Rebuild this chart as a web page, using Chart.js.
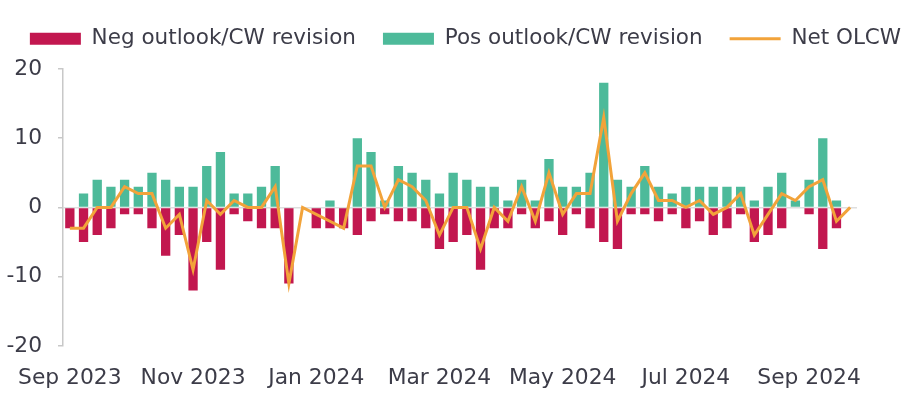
<!DOCTYPE html>
<html>
<head>
<meta charset="utf-8">
<script src="https://cdn.jsdelivr.net/npm/chart.js@4.4.1/dist/chart.umd.min.js"></script>
<style>
  html, body { margin: 0; padding: 0; background: #fff; }
  #wrap { width: 917px; height: 412px; }
</style>
</head>
<body>
<div id="wrap"><canvas id="olcw"></canvas></div>
<script>
// Weekly outlook / CreditWatch revisions, Sep 2023 - Sep 2024

const weeks = [
  '2023-09-01', '2023-09-08', '2023-09-15', '2023-09-22', '2023-09-29',
  '2023-10-06', '2023-10-13', '2023-10-20', '2023-10-27', '2023-11-03',
  '2023-11-10', '2023-11-17', '2023-11-24', '2023-12-01', '2023-12-08',
  '2023-12-15', '2023-12-22', '2023-12-29', '2024-01-05', '2024-01-12',
  '2024-01-19', '2024-01-26', '2024-02-02', '2024-02-09', '2024-02-16',
  '2024-02-23', '2024-03-01', '2024-03-08', '2024-03-15', '2024-03-22',
  '2024-03-29', '2024-04-05', '2024-04-12', '2024-04-19', '2024-04-26',
  '2024-05-03', '2024-05-10', '2024-05-17', '2024-05-24', '2024-05-31',
  '2024-06-07', '2024-06-14', '2024-06-21', '2024-06-28', '2024-07-05',
  '2024-07-12', '2024-07-19', '2024-07-26', '2024-08-02', '2024-08-09',
  '2024-08-16', '2024-08-23', '2024-08-30', '2024-09-06', '2024-09-13',
  '2024-09-20', '2024-09-27', '2024-10-04'
];

// one label every 9 weeks
const tickEvery = 9;
const tickLabels = ['Sep 2023', 'Nov 2023', 'Jan 2024', 'Mar 2024', 'May 2024', 'Jul 2024', 'Sep 2024'];

const negRevisions = [
  -3, -5, -4, -3, -1, -1, -3, -7, -4, -12,
  -5, -9, -1, -2, -3, -3, -11, 0, -3, -3,
  -3, -4, -2, -1, -2, -2, -3, -6, -5, -4,
  -9, -3, -3, -1, -3, -2, -4, -1, -3, -5,
  -6, -1, -1, -2, -1, -3, -2, -4, -3, -1,
  -5, -4, -3, 0, -1, -6, -3, 0
];

const posRevisions = [
  0, 2, 4, 3, 4, 3, 5, 4, 3, 3,
  6, 8, 2, 2, 3, 6, 0, 0, 0, 1,
  0, 10, 8, 1, 6, 5, 4, 2, 5, 4,
  3, 3, 1, 4, 1, 7, 3, 3, 5, 18,
  4, 3, 6, 3, 2, 3, 3, 3, 3, 3,
  1, 3, 5, 1, 4, 10, 1, 0
];

const netOLCW = [
  -3, -3, 0, 0, 3, 2, 2, -3, -1, -9,
  1, -1, 1, 0, 0, 3, -11, 0, -1, -2,
  -3, 6, 6, 0, 4, 3, 1, -4, 0, 0,
  -6, 0, -2, 3, -2, 5, -1, 2, 2, 13,
  -2, 2, 5, 1, 1, 0, 1, -1, 0, 2,
  -4, -1, 2, 1, 3, 4, -2, 0
];

const textColor = '#3c3c48';
const font = { family: '"DejaVu Sans", sans-serif', size: 21.8 };
const legendFont = { family: '"DejaVu Sans", sans-serif', size: 21.5 };

// keep the legend on one row, shrink its box so the plot starts closer to it
const legendFit = {
  id: 'legendFit',
  beforeInit(chart) {
    const legend = chart.legend;
    const fitRows = legend._fitRows;
    legend._fitRows = function (...args) {
      const mw = this.maxWidth;
      this.maxWidth = mw + 60;
      const res = fitRows.apply(this, args);
      this.maxWidth = mw;
      return res;
    };
    const fit = legend.fit;
    legend.fit = function () {
      fit.call(this);
      this.height = 68;
    };
  },
  afterLayout(chart) {
    // widen the drawing span a little so the last item stays on the row
    chart.legend.left = -9;
    chart.legend.right = 940;
  }
};

new Chart(document.getElementById('olcw'), {
  type: 'bar',
  data: {
    labels: weeks,
    datasets: [
      {
        label: 'Neg outlook/CW revision',
        data: negRevisions,
        backgroundColor: '#C2174F',
        borderWidth: 0,
        stack: 'rev',
        pointStyle: 'rect',
        barPercentage: 0.68,
        categoryPercentage: 1
      },
      {
        label: 'Pos outlook/CW revision',
        data: posRevisions,
        backgroundColor: '#4DBA9A',
        borderWidth: 0,
        stack: 'rev',
        pointStyle: 'rect',
        barPercentage: 0.68,
        categoryPercentage: 1
      },
      {
        type: 'line',
        label: 'Net OLCW',
        data: netOLCW,
        borderColor: '#F2A33A',
        backgroundColor: '#F2A33A',
        borderWidth: 3,
        pointRadius: 0,
        tension: 0,
        fill: false,
        stack: 'net',
        order: -1,
        pointStyle: 'line'
      }
    ]
  },
  options: {
    responsive: true,
    maintainAspectRatio: false,
    animation: false,
    layout: { padding: { left: 0, right: 0, top: 1, bottom: 10 } },
    plugins: {
      tooltip: { enabled: false },
      legend: {
        position: 'top',
        labels: {
          usePointStyle: true,
          pointStyleWidth: 51,
          boxHeight: 12,
          padding: 27,
          color: textColor,
          font: legendFont,
          sort: (a, b) => a.datasetIndex - b.datasetIndex
        }
      }
    },
    scales: {
      x: {
        stacked: true,
        offset: true,
        grid: { display: false },
        border: { display: false },
        ticks: {
          autoSkip: false,
          maxRotation: 0,
          minRotation: 0,
          padding: 11,
          color: textColor,
          font: font,
          callback: (v, i) => (i % tickEvery === 0 ? tickLabels[i / tickEvery] : '')
        }
      },
      y: {
        stacked: true,
        min: -20,
        max: 20,
        border: { color: '#c8c8c8', width: 1.5 },
        grid: {
          color: ctx => (ctx.tick && ctx.tick.value === 0 ? '#dedede' : 'rgba(0,0,0,0)'),
          lineWidth: 1.5,
          tickColor: '#c8c8c8',
          tickLength: 5
        },
        ticks: {
          stepSize: 10,
          padding: 16,
          color: textColor,
          font: font
        },
        afterFit(scale) { scale.width = 63; }
      },
      // empty axis that keeps the right margin free
      yRight: {
        position: 'right',
        grid: { display: false },
        border: { display: false },
        ticks: { display: false },
        afterFit(scale) { scale.width = 60; }
      }
    }
  },
  plugins: [legendFit]
});
</script>
</body>
</html>
